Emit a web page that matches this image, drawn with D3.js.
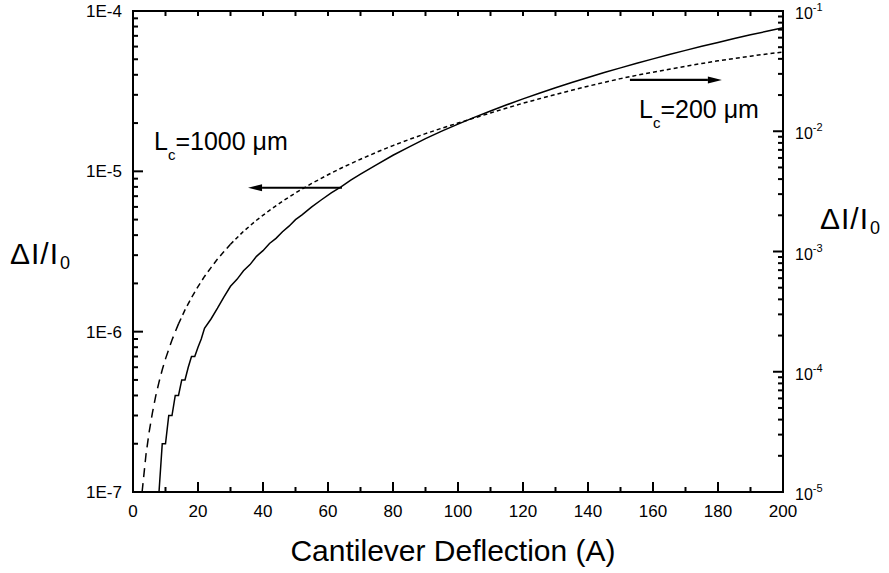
<!DOCTYPE html>
<html>
<head>
    <script src="https://d3js.org/d3.v7.min.js"></script>
    <style>
        body { margin: 0; background: #fff; }
        svg text { font-family: "Liberation Sans", Arial, sans-serif; fill: #000; }
    </style>
</head>
<body>
<div id="chart"></div>
<script>
    // Lc = 1000 um, left axis (solid)
    var solidX = [8, 9, 10, 11, 12, 13, 14, 15, 16, 17, 18, 19, 20, 21, 22, 24, 26, 28, 30, 32, 34, 36, 38, 40,
        42, 44, 46, 48, 50, 52, 55, 58, 61, 64, 67, 70, 75, 80, 85, 90, 95, 100, 105, 110, 115, 120, 125, 130,
        135, 140, 145, 150, 155, 160, 165, 170, 175, 180, 185, 190, 195, 200];
    var solidY = [1e-7, 2e-7, 2e-7, 3e-7, 3e-7, 4e-7, 4e-7, 5e-7, 5e-7, 6e-7, 7e-7, 7e-7, 8e-7, 9e-7, 1.05e-6,
        1.2e-6, 1.4e-6, 1.65e-6, 1.92e-6, 2.12e-6, 2.4e-6, 2.62e-6, 2.95e-6, 3.2e-6, 3.55e-6, 3.82e-6, 4.2e-6,
        4.55e-6, 5.0e-6, 5.35e-6, 6.0e-6, 6.65e-6, 7.35e-6, 8.0e-6, 8.8e-6, 9.6e-6, 1.1e-5, 1.26e-5, 1.42e-5,
        1.6e-5, 1.78e-5, 1.97e-5, 2.17e-5, 2.38e-5, 2.6e-5, 2.83e-5, 3.07e-5, 3.32e-5, 3.58e-5, 3.85e-5,
        4.13e-5, 4.42e-5, 4.72e-5, 5.03e-5, 5.35e-5, 5.68e-5, 6.02e-5, 6.37e-5, 6.73e-5, 7.1e-5, 7.47e-5, 7.85e-5];

    // Lc = 200 um, right axis (dashed)
    var dashX = [2.8, 4, 5, 6, 7, 8, 9, 10, 12, 14, 16, 18, 20, 22, 24, 26, 28, 30, 34, 38, 42, 46, 50, 55, 60,
        65, 70, 75, 80, 85, 90, 95, 100, 105, 110, 115, 120, 125, 130, 135, 140, 145, 150, 155, 160, 165, 170,
        175, 180, 185, 190, 195, 200];
    var dashY = [1.0e-5, 2.05e-5, 3.2e-5, 4.6e-5, 6.3e-5, 8.2e-5, 1.04e-4, 1.28e-4, 1.84e-4, 2.5e-4, 3.27e-4,
        4.14e-4, 5.1e-4, 6.2e-4, 7.35e-4, 8.65e-4, 1.0e-3, 1.15e-3, 1.47e-3, 1.82e-3, 2.2e-3, 2.62e-3, 3.07e-3,
        3.68e-3, 4.35e-3, 5.08e-3, 5.85e-3, 6.7e-3, 7.6e-3, 8.55e-3, 9.55e-3, 1.06e-2, 1.17e-2, 1.29e-2,
        1.42e-2, 1.56e-2, 1.71e-2, 1.86e-2, 2.02e-2, 2.19e-2, 2.37e-2, 2.55e-2, 2.74e-2, 2.92e-2, 3.1e-2,
        3.28e-2, 3.47e-2, 3.66e-2, 3.85e-2, 4.03e-2, 4.21e-2, 4.39e-2, 4.56e-2];

    var xMajor = [0, 20, 40, 60, 80, 100, 120, 140, 160, 180, 200];
    var xMinor = [10, 30, 50, 70, 90, 110, 130, 150, 170, 190];
    var leftMajor = [1e-7, 1e-6, 1e-5, 1e-4];
    var leftLabels = ["1E-7", "1E-6", "1E-5", "1E-4"];
    var rightMajor = [1e-5, 1e-4, 1e-3, 1e-2, 1e-1];
    var rightExp = ["-5", "-4", "-3", "-2", "-1"];

    var W = 889, H = 573;
    var margin = {left: 133, top: 11, right: 106, bottom: 81};
    var width = W - margin.left - margin.right,
        height = H - margin.top - margin.bottom;

    var svg = d3.select("#chart").append("svg")
        .attr("width", W).attr("height", H);
    var g = svg.append("g")
        .attr("transform", "translate(" + margin.left + "," + margin.top + ")");

    var x = d3.scaleLinear().domain([0, 200]).range([0, width]);
    var yL = d3.scaleLog().domain([1e-7, 1e-4]).range([height, 0]);
    var yR = d3.scaleLog().domain([1e-5, 1e-1]).range([height, 0]);

    function minorsOf(scale) {
        return scale.ticks().filter(function(d) {
            var m = Math.round(d / Math.pow(10, Math.floor(Math.log10(d) + 1e-9)));
            return m !== 1;
        });
    }

    // inward tick marks drawn from the scales
    function hTicks(vals, y0, len) {
        g.append("g").selectAll("line").data(vals).join("line")
            .attr("x1", function(d) { return x(d); }).attr("x2", function(d) { return x(d); })
            .attr("y1", y0).attr("y2", y0 + len)
            .attr("stroke", "#000").attr("stroke-width", 2);
    }
    function vTicks(scale, vals, x0, len) {
        g.append("g").selectAll("line").data(vals).join("line")
            .attr("y1", function(d) { return scale(d); }).attr("y2", function(d) { return scale(d); })
            .attr("x1", x0).attr("x2", x0 + len)
            .attr("stroke", "#000").attr("stroke-width", 2);
    }
    hTicks(xMajor, height, -10);
    hTicks(xMinor, height, -5);
    hTicks(xMajor.concat(xMinor), 0, 5);
    vTicks(yL, leftMajor, 0, 10);
    vTicks(yL, minorsOf(yL), 0, 5);
    vTicks(yR, rightMajor, width, -10);
    vTicks(yR, minorsOf(yR), width, -5);

    // tick labels
    g.append("g").selectAll("text").data(xMajor).join("text")
        .attr("x", function(d) { return x(d); }).attr("y", height + 25)
        .attr("text-anchor", "middle").style("font-size", "17px")
        .text(function(d) { return d; });
    g.append("g").selectAll("text").data(leftMajor).join("text")
        .attr("x", -11).attr("y", function(d) { return yL(d) + 6; })
        .attr("text-anchor", "end").style("font-size", "17px")
        .text(function(d, i) { return leftLabels[i]; });
    var rl = g.append("g").selectAll("text").data(rightMajor).join("text")
        .attr("x", width + 12).attr("y", function(d) { return yR(d) + 8; })
        .style("font-size", "16px");
    rl.append("tspan").text("10");
    rl.append("tspan").attr("dy", -8).style("font-size", "11px").text(function(d, i) { return rightExp[i]; });

    // frame
    g.append("rect").attr("x", 0).attr("y", 0).attr("width", width).attr("height", height)
        .attr("fill", "none").attr("stroke", "#000").attr("stroke-width", 2);

    // solid curve
    var solid = solidX.map(function(d, i) { return [d, solidY[i]]; });
    g.append("path").datum(solid)
        .attr("fill", "none").attr("stroke", "#000").attr("stroke-width", 1.5)
        .attr("d", d3.line().x(function(d) { return x(d[0]); }).y(function(d) { return yL(d[1]); }));

    // dashed curve, the dashes get shorter as the curve flattens
    var dashed = dashX.map(function(d, i) { return [d, dashY[i]]; });
    var dashParts = [[0, 14, "9,6"], [14, 30, "6,4"], [30, 200, "4,3"]];
    dashParts.forEach(function(p) {
        var part = dashed.filter(function(d) { return d[0] >= p[0] && d[0] <= p[1]; });
        g.append("path").datum(part)
            .attr("fill", "none").attr("stroke", "#000").attr("stroke-width", 1.5)
            .attr("stroke-dasharray", p[2])
            .attr("d", d3.line().x(function(d) { return x(d[0]); }).y(function(d) { return yR(d[1]); }));
    });

    // arrows
    function arrow(x0, x1, yv) {
        var dir = x1 > x0 ? 1 : -1, hl = 14, hw = 3.5;
        g.append("line").attr("x1", x0).attr("x2", x1 - dir * hl).attr("y1", yv).attr("y2", yv)
            .attr("stroke", "#000").attr("stroke-width", 2.2);
        g.append("path")
            .attr("d", "M" + x1 + "," + yv + "L" + (x1 - dir * hl) + "," + (yv - hw) + "L" + (x1 - dir * hl) + "," + (yv + hw) + "Z")
            .attr("fill", "#000");
    }
    arrow(x(64.3), x(35.4), yL(7.9e-6));
    arrow(x(152.9), x(181.2), yR(2.67e-2));

    // annotations
    function lcLabel(px, py, val) {
        var t = svg.append("text").attr("x", px).attr("y", py).style("font-size", "25px");
        t.append("tspan").text("L");
        t.append("tspan").attr("dy", 10).style("font-size", "15px").text("c");
        t.append("tspan").attr("dy", -10).text("=" + val + " \u03bcm");
    }
    lcLabel(154, 150, "1000");
    lcLabel(639, 118, "200");

    function yTitle(px, py) {
        var t = svg.append("text").attr("x", px).attr("y", py)
            .style("font-size", "30px").style("letter-spacing", "1px");
        t.append("tspan").text("\u0394I/I");
        t.append("tspan").attr("dy", 5).attr("dx", 1).style("font-size", "18px").text("0");
    }
    yTitle(10, 264);
    yTitle(820, 229);

    svg.append("text").attr("x", margin.left + width / 2 - 5).attr("y", 561)
        .attr("text-anchor", "middle").style("font-size", "30px")
        .text("Cantilever Deflection (A)");
</script>
</body>
</html>
